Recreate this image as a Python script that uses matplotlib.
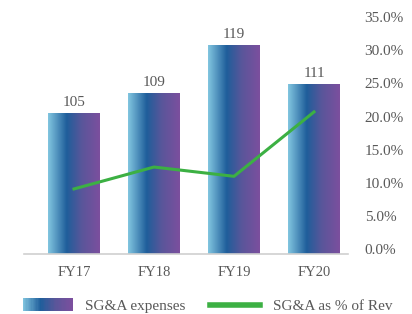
import matplotlib
matplotlib.use("Agg")
import matplotlib.pyplot as plt
import numpy as np
from matplotlib.colors import LinearSegmentedColormap
from matplotlib.legend_handler import HandlerBase
from matplotlib.patches import Rectangle, Patch
from matplotlib.lines import Line2D

categories = ["FY17", "FY18", "FY19", "FY20"]
sga_expenses = [105, 109, 119, 111]
sga_pct = [9.1, 12.4, 11.0, 20.7]
pct_ticks = [0, 5, 10, 15, 20, 25, 30, 35]

plt.rcParams['font.family'] = ['Liberation Serif', 'DejaVu Serif']
text_color = "#595959"
green = "#3cb043"

cmap = LinearSegmentedColormap.from_list(
    "grad", [(0.0, "#82c6e0"), (0.36, "#1f5e9b"), (0.65, "#59569a"), (1.0, "#7c4f9e")])

fig = plt.figure(figsize=(4.12, 3.14), dpi=100)
ax = fig.add_axes([24/412, (314-254)/314, (348-24)/412, (254-17)/314])
ax2 = ax.twinx()

x = np.arange(len(categories))
bars = ax.bar(x, sga_expenses, width=0.65, color="none", edgecolor="none", zorder=1)
grad = np.linspace(0, 1, 256).reshape(1, -1)
for b, v in zip(bars, sga_expenses):
    x0 = b.get_x()
    w = b.get_width()
    ax.imshow(grad, cmap=cmap, aspect="auto", extent=[x0, x0 + w, 0, v],
              zorder=1, interpolation="bilinear")
    ax.text(x0 + w/2, v + 0.9, str(v), ha="center", va="bottom", fontsize=11, color=text_color)

ax.set_xlim(-0.625, 3.425)
ax.set_ylim(76, 124.8)
ax.set_yticks([])
ax.set_xticks(x)
ax.set_xticklabels(categories)
ax.tick_params(axis="x", length=0, pad=9, labelsize=10.5, labelcolor=text_color)
for s in ["top", "left", "right"]:
    ax.spines[s].set_visible(False)
ax.spines["bottom"].set_color("#d0d0d0")
ax.spines["bottom"].set_linewidth(1.2)

ax2.plot(x, sga_pct, color=green, linewidth=2.2, zorder=3)
ax2.set_ylim(-0.7, 35.0)
ax2.set_yticks(pct_ticks)
ax2.set_yticklabels([f"{t:.1f}%" for t in pct_ticks])
ax2.tick_params(axis="y", length=0, pad=12, labelsize=11, labelcolor=text_color)
for s in ["top", "left", "right", "bottom"]:
    ax2.spines[s].set_visible(False)


class GradientHandler(HandlerBase):
    def create_artists(self, legend, orig_handle, xdescent, ydescent, width, height, fontsize, trans):
        n = 40
        arts = []
        for i in range(n):
            r = Rectangle((-xdescent + width * i / n, -ydescent - 1), width / n + 0.3, height + 2,
                          facecolor=cmap((i + 0.5) / n), edgecolor="none", transform=trans)
            arts.append(r)
        return arts


handles = [Patch(label="SG&A expenses"), Line2D([0], [0], color=green, linewidth=4, label="SG&A as % of Rev")]
leg = fig.legend(handles=handles, labels=["SG&A expenses", "SG&A as % of Rev"],
                 handler_map={Patch: GradientHandler()},
                 loc="center left", bbox_to_anchor=(9/412, 1 - 306/314), ncol=2, frameon=False,
                 fontsize=11, handlelength=3.25, handletextpad=0.85, columnspacing=1.6)
for t in leg.get_texts():
    t.set_color(text_color)

fig.savefig("out.png", dpi=100)
